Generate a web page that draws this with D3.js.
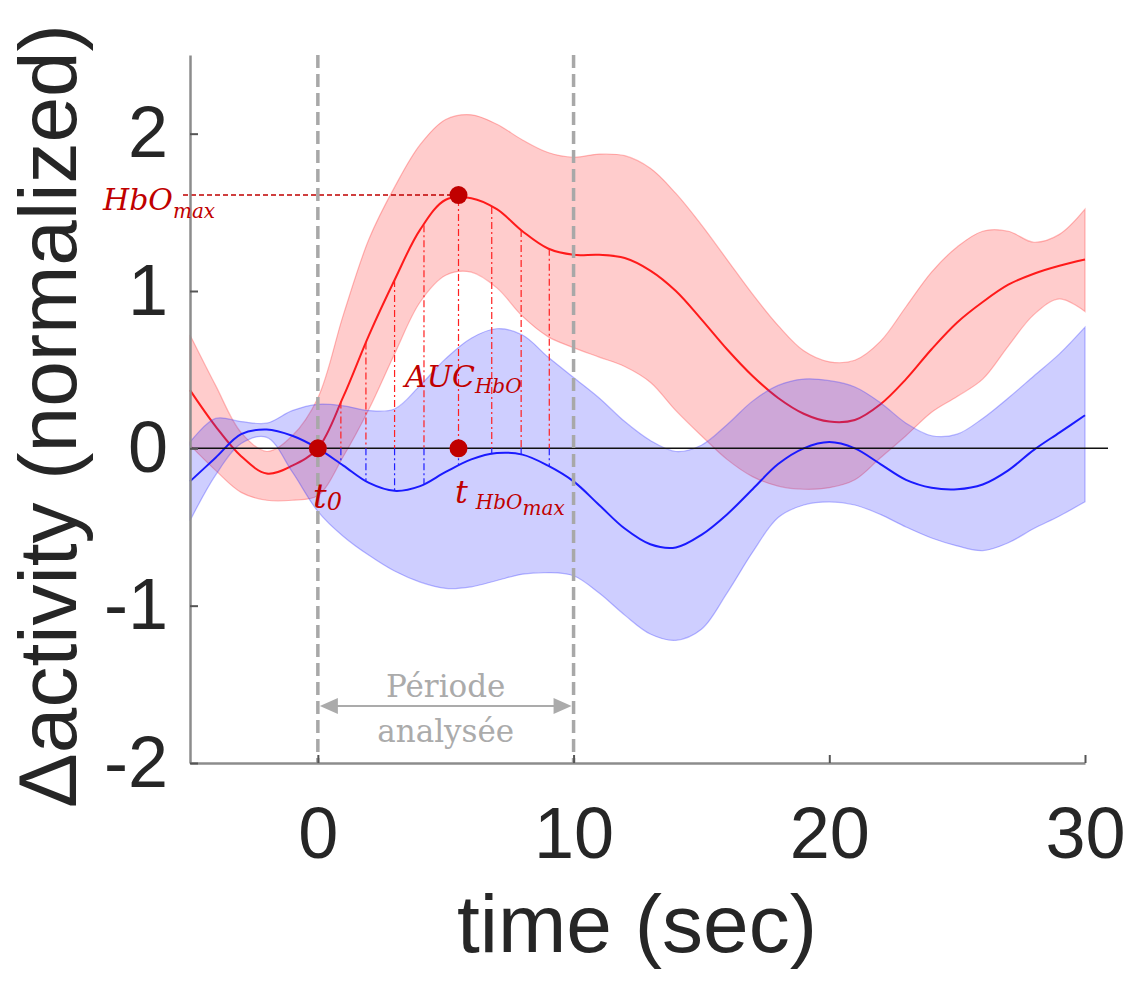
<!DOCTYPE html>
<html><head><meta charset="utf-8">
<script src="https://cdn.jsdelivr.net/npm/d3@7"></script>
<style>body{margin:0;background:#fff}</style>
</head><body><svg id="c" width="1131" height="987"></svg>
<script>
// ---- data ----
const time = [-5,-4,-3,-2,-1,0,1,2,3,4,5,6,7,8,9,10,11,12,13,14,15,16,17,18,19,20,21,22,23,24,25,26,27,28,29,30];
const hboMean  = [0.37,0.14,-0.05,-0.16,-0.11,0.0,0.33,0.72,1.07,1.39,1.58,1.59,1.52,1.38,1.27,1.23,1.23,1.21,1.13,1.0,0.82,0.63,0.46,0.32,0.22,0.17,0.18,0.28,0.44,0.63,0.8,0.93,1.04,1.11,1.16,1.2];
const hboUpper = [0.72,0.4,0.1,-0.02,0.08,0.32,0.85,1.33,1.66,1.93,2.09,2.12,2.06,1.96,1.88,1.85,1.87,1.86,1.78,1.62,1.42,1.2,0.98,0.78,0.62,0.55,0.56,0.68,0.9,1.12,1.28,1.38,1.38,1.31,1.36,1.52];
const hboLower = [0.02,-0.14,-0.28,-0.33,-0.33,-0.3,-0.05,0.25,0.6,0.93,1.1,1.12,1.02,0.84,0.71,0.64,0.58,0.52,0.42,0.24,0.08,-0.07,-0.18,-0.24,-0.26,-0.25,-0.2,-0.06,0.08,0.23,0.33,0.44,0.65,0.85,0.95,0.87];
const hbrMean  = [-0.21,-0.06,0.09,0.12,0.08,0.0,-0.11,-0.22,-0.27,-0.24,-0.15,-0.07,-0.03,-0.04,-0.11,-0.21,-0.36,-0.51,-0.61,-0.63,-0.55,-0.42,-0.26,-0.1,0.0,0.04,0.0,-0.1,-0.2,-0.25,-0.26,-0.23,-0.14,-0.01,0.1,0.21];
const hbrUpper = [0.04,0.19,0.17,0.16,0.24,0.28,0.27,0.24,0.25,0.4,0.57,0.7,0.76,0.72,0.58,0.45,0.32,0.17,0.05,-0.02,0.02,0.15,0.3,0.4,0.44,0.43,0.39,0.29,0.16,0.08,0.09,0.19,0.32,0.46,0.6,0.77];
const hbrLower = [-0.46,-0.17,0.03,0.07,-0.15,-0.4,-0.56,-0.68,-0.78,-0.85,-0.89,-0.88,-0.84,-0.8,-0.79,-0.81,-0.92,-1.06,-1.18,-1.22,-1.15,-0.92,-0.66,-0.44,-0.36,-0.34,-0.36,-0.42,-0.5,-0.57,-0.62,-0.65,-0.6,-0.51,-0.43,-0.34];
const xTicks = [0,10,20,30];
const yTicks = [-2,-1,0,1,2];
const aucTimes = [0.9,1.88,3.0,4.15,5.5,6.8,7.95,9.05];
const t0 = 0, t0Value = 0;
const tPeak = 5.5, peakValue = 1.61;
const periodStart = 0, periodEnd = 10;
const xLabel = "time (sec)";
const yLabel = "\u0394activity (normalized)";

// ---- layout ----
const svg = d3.select("#c");
const x = d3.scaleLinear().domain([-5,30]).range([190,1085]);
const y = d3.scaleLinear().domain([-2,2.5]).range([763,55]);
const RED_DARK = "#c00000";
const rows = time.map((t,i)=>({t, hm:hboMean[i], hu:hboUpper[i], hl:hboLower[i], bm:hbrMean[i], bu:hbrUpper[i], bl:hbrLower[i]}));
const curve = d3.curveCatmullRom.alpha(0.5);

// red band + line
svg.append("path").datum(rows)
  .attr("d", d3.area().x(d=>x(d.t)).y0(d=>y(d.hl)).y1(d=>y(d.hu)).curve(curve))
  .attr("fill","rgba(255,40,40,0.24)").attr("stroke","rgba(255,60,60,0.35)").attr("stroke-width",1.2);
svg.append("path").datum(rows)
  .attr("d", d3.line().x(d=>x(d.t)).y(d=>y(d.hm)).curve(curve))
  .attr("fill","none").attr("stroke","#ff1a1a").attr("stroke-width",2);

// blue band + line
svg.append("path").datum(rows)
  .attr("d", d3.area().x(d=>x(d.t)).y0(d=>y(d.bl)).y1(d=>y(d.bu)).curve(curve))
  .attr("fill","rgba(50,50,255,0.24)").attr("stroke","rgba(60,60,255,0.35)").attr("stroke-width",1.2);
svg.append("path").datum(rows)
  .attr("d", d3.line().x(d=>x(d.t)).y(d=>y(d.bm)).curve(curve))
  .attr("fill","none").attr("stroke","#1a1aff").attr("stroke-width",2);

// zero line
svg.append("line").attr("x1",x(-5)).attr("x2",x(30)+23).attr("y1",y(0)).attr("y2",y(0))
  .attr("stroke","#111").attr("stroke-width",1.5);

// AUC dash-dot lines
const hboAt = d3.scaleLinear().domain(time).range(hboMean);
const hbrAt = d3.scaleLinear().domain(time).range(hbrMean);
aucTimes.forEach(t=>{
  svg.append("line").attr("x1",x(t)).attr("x2",x(t)).attr("y1",y(hboAt(t))).attr("y2",y(0))
    .attr("stroke","#ff2020").attr("stroke-width",1.2).attr("stroke-dasharray","7,3,2,3");
  const b = hbrAt(t);
  if (b < 0) svg.append("line").attr("x1",x(t)).attr("x2",x(t)).attr("y1",y(0)).attr("y2",y(b))
    .attr("stroke","#2020ff").attr("stroke-width",1.2).attr("stroke-dasharray","7,3,2,3");
});

// HbOmax dashed
svg.append("line").attr("x1",x(-5)-7).attr("x2",x(tPeak)).attr("y1",y(peakValue)).attr("y2",y(peakValue))
  .attr("stroke",RED_DARK).attr("stroke-width",1.4).attr("stroke-dasharray","5,3");

// period lines
[periodStart, periodEnd].forEach(t=>{
  svg.append("line").attr("x1",x(t)).attr("x2",x(t)).attr("y1",y(2.5)).attr("y2",y(-2))
    .attr("stroke","#a8a8a8").attr("stroke-width",3.5).attr("stroke-dasharray","13,6");
});

// dots
[[t0,t0Value],[tPeak,peakValue],[tPeak,0]].forEach(([t,v])=>{
  svg.append("circle").attr("cx",x(t)).attr("cy",y(v)).attr("r",9).attr("fill",RED_DARK);
});

// axes
const ax = svg.append("g").attr("transform",`translate(0,${y(-2)})`)
  .call(d3.axisBottom(x).tickValues(xTicks).tickFormat(d3.format("d")).tickSizeInner(-8).tickSizeOuter(0).tickPadding(44));
const ay = svg.append("g").attr("transform",`translate(${x(-5)},0)`)
  .call(d3.axisLeft(y).tickValues(yTicks).tickFormat(d=>d<0?"-"+Math.abs(d):String(d)).tickSizeInner(-8).tickSizeOuter(0).tickPadding(22));
[ax,ay].forEach(g=>{
  g.select(".domain").attr("stroke","#8c8c8c").attr("stroke-width",2.5);
  g.selectAll(".tick line").attr("stroke","#555").attr("stroke-width",2);
  g.selectAll(".tick text").attr("font-family","'Liberation Sans', Arial, sans-serif")
    .attr("font-size",72).attr("fill","#262626");
});

// axis labels
svg.append("text").attr("x",637).attr("y",952).attr("text-anchor","middle")
  .attr("font-family","'Liberation Sans', Arial, sans-serif").attr("font-size",82).attr("fill","#262626")
  .text(xLabel);
svg.append("text").attr("transform","translate(76,416) rotate(-90)").attr("text-anchor","middle")
  .attr("font-family","'Liberation Sans', Arial, sans-serif").attr("font-size",82).attr("fill","#262626")
  .text(yLabel);

// annotation texts
const serif = "'DejaVu Serif', 'Liberation Serif', serif";
function sub(xp, yp, main, subTxt, mainSize, subSize, dy) {
  const t = svg.append("text").attr("x",xp).attr("y",yp).attr("font-family",serif)
    .attr("font-style","italic").attr("fill",RED_DARK);
  t.append("tspan").attr("font-size",mainSize).text(main);
  t.append("tspan").attr("font-size",subSize).attr("dy",dy).text(subTxt);
  return t;
}
sub(103, 210, "HbO", "max", 30, 20, 8);
sub(405, 387, "AUC", "HbO", 30, 20, 6);
sub(313, 508, "t", "0", 34, 24, 2);
const tm = svg.append("text").attr("x",455).attr("y",503).attr("font-family",serif)
  .attr("font-style","italic").attr("fill",RED_DARK);
tm.append("tspan").attr("font-size",32).text("t");
tm.append("tspan").attr("font-size",20).attr("dx",8).attr("dy",6).text("HbO");
tm.append("tspan").attr("font-size",20).attr("dy",6).text("max");

// Période analysée
const gray = "#ababab";
const ay0 = 706;
svg.append("line").attr("x1",x(periodStart)+16).attr("x2",x(periodEnd)-16).attr("y1",ay0).attr("y2",ay0)
  .attr("stroke",gray).attr("stroke-width",2);
svg.append("path").attr("d",`M${x(periodStart)+2},${ay0} l18,-8 l0,16 z`).attr("fill",gray);
svg.append("path").attr("d",`M${x(periodEnd)-2},${ay0} l-18,-8 l0,16 z`).attr("fill",gray);
const mid = (x(periodStart)+x(periodEnd))/2;
svg.append("text").attr("x",mid).attr("y",697).attr("text-anchor","middle").attr("font-family",serif)
  .attr("font-size",31).attr("fill",gray).text("Période");
svg.append("text").attr("x",mid).attr("y",742).attr("text-anchor","middle").attr("font-family",serif)
  .attr("font-size",31).attr("fill",gray).text("analysée");
</script></body></html>
